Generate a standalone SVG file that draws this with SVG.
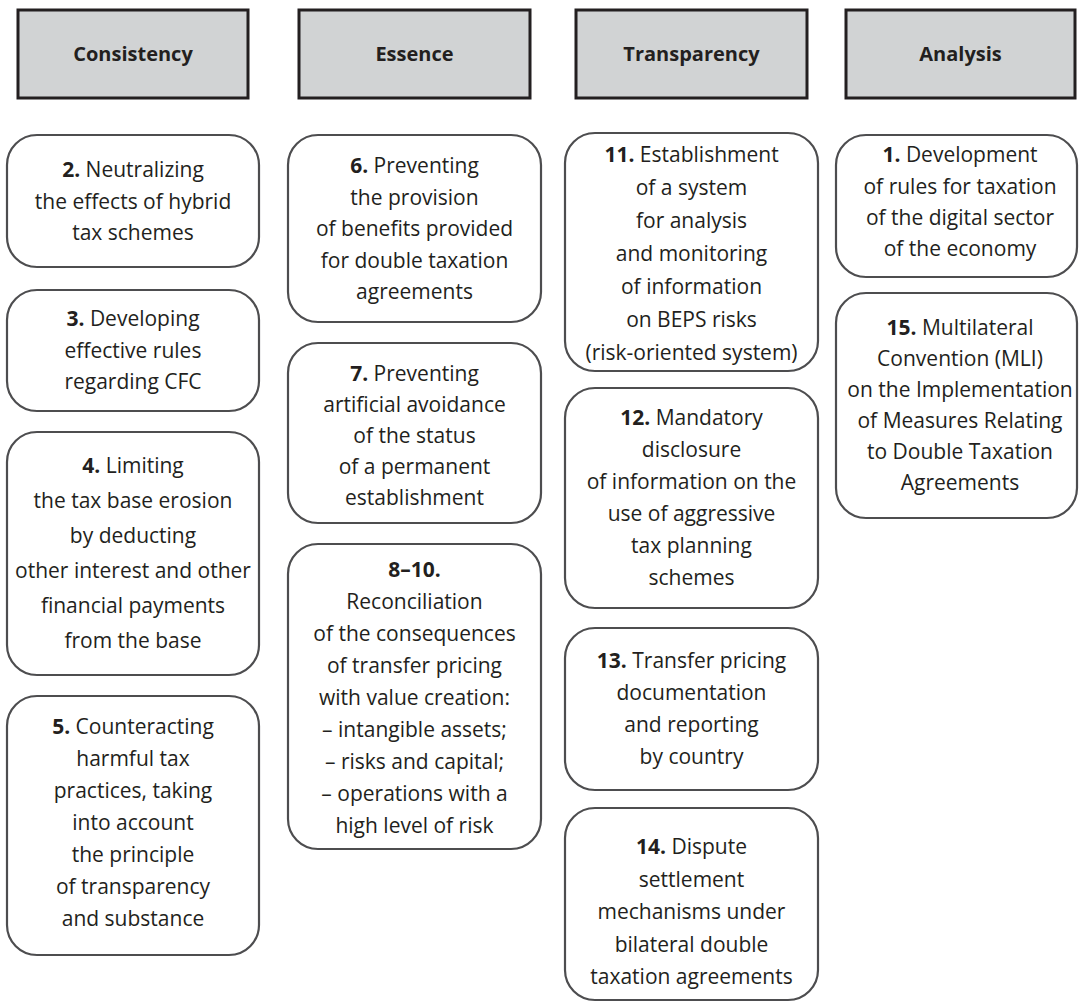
<svg xmlns="http://www.w3.org/2000/svg" width="1079" height="1005" viewBox="0 0 1079 1005">
<style>
.hdr{fill:#d1d3d4;stroke:#231f20;stroke-width:3}
.box{fill:#ffffff;stroke:#4d4d4f;stroke-width:2.2}
.ht{font-family:"Open Sans","Noto Sans",sans-serif;font-weight:700;font-size:20px;fill:#231f20;text-anchor:middle}
.t{font-family:"Open Sans","Noto Sans",sans-serif;font-size:21px;fill:#231f20;text-anchor:middle}
.b{font-weight:700}
</style>
<rect width="1079" height="1005" fill="#ffffff"/>
<g id="connectors"></g>
<g id="h-consistency"><rect class="hdr" x="18" y="10" width="230" height="88"/><text class="ht" x="133" y="61">Consistency</text></g>
<g id="h-essence"><rect class="hdr" x="299" y="10" width="231" height="88"/><text class="ht" x="414.5" y="61">Essence</text></g>
<g id="h-transparency"><rect class="hdr" x="576" y="10" width="231" height="88"/><text class="ht" x="691.5" y="61">Transparency</text></g>
<g id="h-analysis"><rect class="hdr" x="846" y="10" width="229" height="88"/><text class="ht" x="960.5" y="61">Analysis</text></g>

<g id="n2"><rect class="box" x="7" y="135" width="252" height="132" rx="30"/>
<text class="t" x="133" y="177"><tspan class="b">2.</tspan> Neutralizing</text>
<text class="t" x="133" y="208.5">the effects of hybrid</text>
<text class="t" x="133" y="240">tax schemes</text></g>

<g id="n3"><rect class="box" x="7" y="290" width="252" height="121" rx="30"/>
<text class="t" x="133" y="326"><tspan class="b">3.</tspan> Developing</text>
<text class="t" x="133" y="357.5">effective rules</text>
<text class="t" x="133" y="389">regarding CFC</text></g>

<g id="n4"><rect class="box" x="7" y="432" width="252" height="243" rx="30"/>
<text class="t" x="133" y="473"><tspan class="b">4.</tspan> Limiting</text>
<text class="t" x="133" y="508">the tax base erosion</text>
<text class="t" x="133" y="543">by deducting</text>
<text class="t" x="133" y="578">other interest and other</text>
<text class="t" x="133" y="613">financial payments</text>
<text class="t" x="133" y="648">from the base</text></g>

<g id="n5"><rect class="box" x="7" y="696" width="252" height="259" rx="30"/>
<text class="t" x="133" y="733.5"><tspan class="b">5.</tspan> Counteracting</text>
<text class="t" x="133" y="765.5">harmful tax</text>
<text class="t" x="133" y="797.5">practices, taking</text>
<text class="t" x="133" y="829.5">into account</text>
<text class="t" x="133" y="861.5">the principle</text>
<text class="t" x="133" y="893.5">of transparency</text>
<text class="t" x="133" y="925.5">and substance</text></g>

<g id="n6"><rect class="box" x="288" y="135" width="253" height="187" rx="30"/>
<text class="t" x="414.5" y="173"><tspan class="b">6.</tspan> Preventing</text>
<text class="t" x="414.5" y="204.5">the provision</text>
<text class="t" x="414.5" y="236">of benefits provided</text>
<text class="t" x="414.5" y="267.5">for double taxation</text>
<text class="t" x="414.5" y="299">agreements</text></g>

<g id="n7"><rect class="box" x="288" y="343" width="253" height="180" rx="30"/>
<text class="t" x="414.5" y="381"><tspan class="b">7.</tspan> Preventing</text>
<text class="t" x="414.5" y="412">artificial avoidance</text>
<text class="t" x="414.5" y="443">of the status</text>
<text class="t" x="414.5" y="474">of a permanent</text>
<text class="t" x="414.5" y="505">establishment</text></g>

<g id="n8-10"><rect class="box" x="288" y="544" width="253" height="305" rx="30"/>
<text class="t b" x="414.5" y="576.5">8–10.</text>
<text class="t" x="414.5" y="608.5">Reconciliation</text>
<text class="t" x="414.5" y="640.5">of the consequences</text>
<text class="t" x="414.5" y="672.5">of transfer pricing</text>
<text class="t" x="414.5" y="704.5">with value creation:</text>
<text class="t" x="414.5" y="736.5">– intangible assets;</text>
<text class="t" x="414.5" y="768.5">– risks and capital;</text>
<text class="t" x="414.5" y="800.5">– operations with a</text>
<text class="t" x="414.5" y="832.5">high level of risk</text></g>

<g id="n11"><rect class="box" x="565" y="133" width="253" height="238" rx="30"/>
<text class="t" x="691.5" y="162"><tspan class="b">11.</tspan> Establishment</text>
<text class="t" x="691.5" y="195">of a system</text>
<text class="t" x="691.5" y="228">for analysis</text>
<text class="t" x="691.5" y="261">and monitoring</text>
<text class="t" x="691.5" y="294">of information</text>
<text class="t" x="691.5" y="327">on BEPS risks</text>
<text class="t" x="691.5" y="360">(risk-oriented system)</text></g>

<g id="n12"><rect class="box" x="565" y="388" width="253" height="220" rx="30"/>
<text class="t" x="691.5" y="425"><tspan class="b">12.</tspan> Mandatory</text>
<text class="t" x="691.5" y="457">disclosure</text>
<text class="t" x="691.5" y="489">of information on the</text>
<text class="t" x="691.5" y="521">use of aggressive</text>
<text class="t" x="691.5" y="553">tax planning</text>
<text class="t" x="691.5" y="585">schemes</text></g>

<g id="n13"><rect class="box" x="565" y="628" width="253" height="162" rx="30"/>
<text class="t" x="691.5" y="668"><tspan class="b">13.</tspan> Transfer pricing</text>
<text class="t" x="691.5" y="700">documentation</text>
<text class="t" x="691.5" y="732">and reporting</text>
<text class="t" x="691.5" y="764">by country</text></g>

<g id="n14"><rect class="box" x="565" y="808" width="253" height="192" rx="30"/>
<text class="t" x="691.5" y="854"><tspan class="b">14.</tspan> Dispute</text>
<text class="t" x="691.5" y="886.5">settlement</text>
<text class="t" x="691.5" y="919">mechanisms under</text>
<text class="t" x="691.5" y="951.5">bilateral double</text>
<text class="t" x="691.5" y="984">taxation agreements</text></g>

<g id="n1"><rect class="box" x="836" y="135" width="241" height="142" rx="30"/>
<text class="t" x="960" y="162"><tspan class="b">1.</tspan> Development</text>
<text class="t" x="960" y="193.5">of rules for taxation</text>
<text class="t" x="960" y="225">of the digital sector</text>
<text class="t" x="960" y="256">of the economy</text></g>

<g id="n15"><rect class="box" x="836" y="293" width="241" height="225" rx="30"/>
<text class="t" x="960" y="335"><tspan class="b">15.</tspan> Multilateral</text>
<text class="t" x="960" y="366">Convention (MLI)</text>
<text class="t" x="960" y="397">on the Implementation</text>
<text class="t" x="960" y="428">of Measures Relating</text>
<text class="t" x="960" y="459">to Double Taxation</text>
<text class="t" x="960" y="490">Agreements</text></g>
</svg>
